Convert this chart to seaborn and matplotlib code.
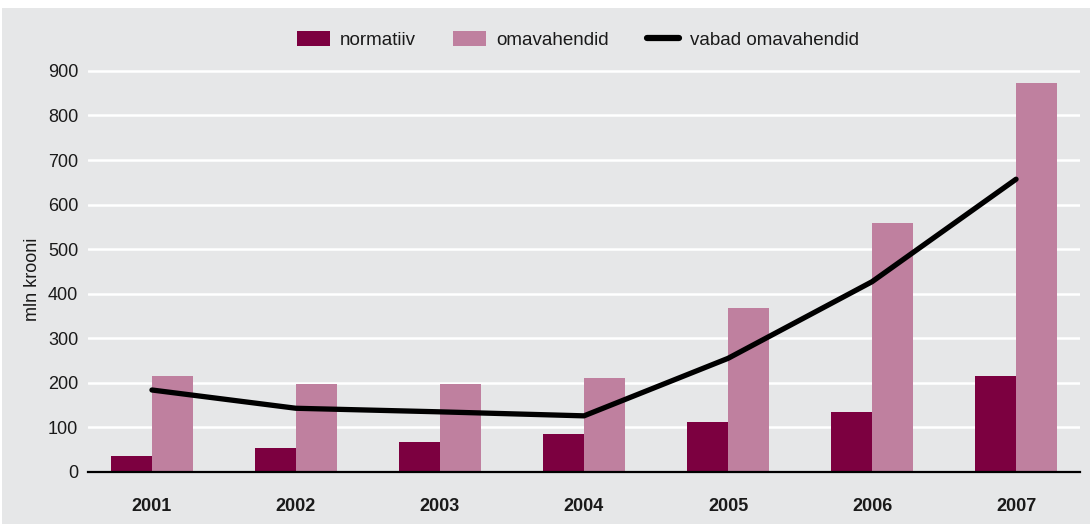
import numpy as np
import pandas as pd
import matplotlib
matplotlib.use("Agg")
import matplotlib.pyplot as plt
from matplotlib.patches import Rectangle
import seaborn as sns

years = ["2001", "2002", "2003", "2004", "2005", "2006", "2007"]
normatiiv = [36, 54, 67, 85, 112, 135, 215]
omavahendid = [215, 197, 197, 211, 368, 559, 873]
vabad_omavahendid = [184, 143, 135, 126, 255, 427, 657]

bar_names = ["normatiiv", "omavahendid"]
line_name = "vabad omavahendid"
y_ticks = [0, 100, 200, 300, 400, 500, 600, 700, 800, 900]

bars = pd.DataFrame({
    "aasta": years * 2,
    "väärtus": normatiiv + omavahendid,
    "näitaja": [bar_names[0]] * len(years) + [bar_names[1]] * len(years),
})

sns.set_theme(style="white")
plt.rcParams["font.family"] = ["Liberation Sans", "DejaVu Sans"]

BG = "#e6e7e8"
TXT = "#1a1a1a"
fig = plt.figure(figsize=(10.9, 5.24), dpi=100, facecolor="white")
fig.patches.append(Rectangle((2 / 1090, 0), 1, (524 - 8) / 524,
                             transform=fig.transFigure, facecolor=BG,
                             edgecolor="none", zorder=-10))

ax = fig.add_axes([88 / 1090, 52 / 524, 992 / 1090, 410 / 524])
ax.set_facecolor(BG)

sns.barplot(data=bars, x="aasta", y="väärtus", hue="näitaja",
            palette=["#7c0040", "#bf809f"], width=0.57, gap=0,
            saturation=1, edgecolor="none", linewidth=0, ax=ax,
            legend=False, zorder=3)
sns.lineplot(x=np.arange(len(years)), y=vabad_omavahendid, color="black",
             linewidth=3.8, ax=ax, zorder=4)

ax.set_xlim(-0.444, len(years) - 1 + 0.444)
ax.set_ylim(0, 920)
ax.set_yticks(y_ticks)
ax.yaxis.grid(True, color="white", linewidth=1.8, zorder=1)
ax.xaxis.grid(False)
ax.set_axisbelow(True)
for side in ["top", "right", "left"]:
    ax.spines[side].set_visible(False)
ax.spines["bottom"].set_color("black")
ax.spines["bottom"].set_linewidth(1.6)
ax.spines["bottom"].set_zorder(5)

ax.tick_params(axis="y", length=0, pad=7, labelsize=13, labelcolor=TXT)
ax.tick_params(axis="x", length=0, pad=19, labelsize=13, labelcolor=TXT)
for lbl in ax.get_xticklabels():
    lbl.set_fontweight("bold")

ax.set_xlabel("")
ax.set_ylabel("mln krooni", fontsize=13, color=TXT)
ax.yaxis.set_label_coords(-0.047, 0.47)

handles = [
    Rectangle((0, 0), 1, 1, facecolor="#7c0040", edgecolor="none"),
    Rectangle((0, 0), 1, 1, facecolor="#bf809f", edgecolor="none"),
    plt.Line2D([0], [0], color="black", linewidth=4.5),
]
fig.legend(handles, bar_names + [line_name], loc="center",
           bbox_to_anchor=(0.530, 0.924), ncol=3, frameon=False,
           fontsize=13.5, handlelength=1.75, handleheight=0.85,
           handletextpad=0.55, columnspacing=2.0, labelcolor=TXT)

fig.savefig("out.png", dpi=100, facecolor="white")
